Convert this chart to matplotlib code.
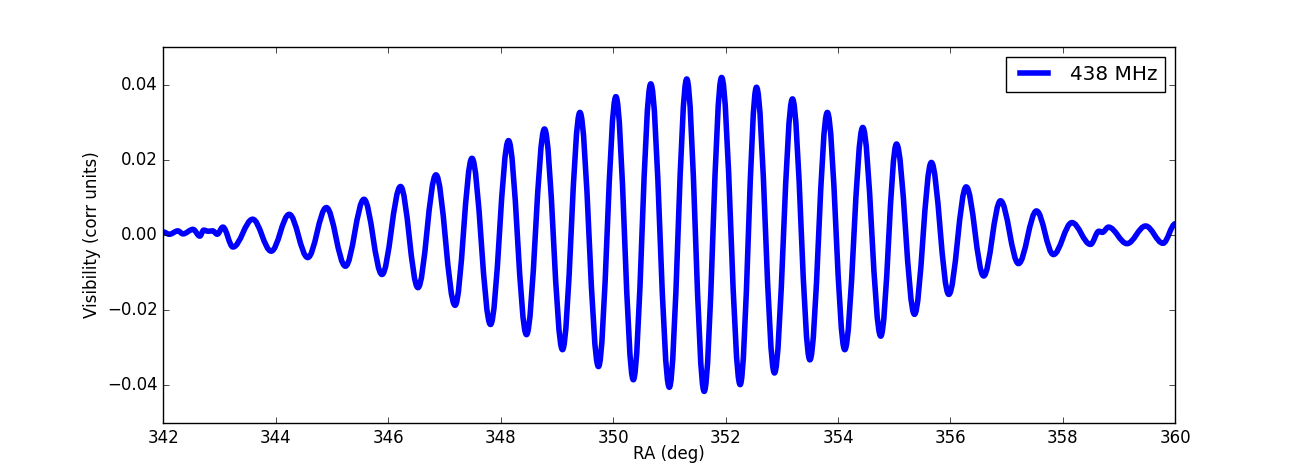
import matplotlib
matplotlib.use("Agg")
import matplotlib.pyplot as plt
from matplotlib.path import Path
from matplotlib.patches import PathPatch
from matplotlib.lines import Line2D

plt.style.use("classic")

# Extrema of the fringe pattern (RA in deg, visibility in corr units)
ra_ext = [342.00, 342.11, 342.26, 342.35, 342.53, 342.65, 342.72, 342.80, 342.88, 342.96,
          343.06, 343.24, 343.59, 343.92, 344.24, 344.57, 344.90, 345.24, 345.57,
          345.89, 346.22, 346.53, 346.85, 347.19, 347.49, 347.82, 348.14, 348.46,
          348.78, 349.10, 349.41, 349.74, 350.05, 350.36, 350.67, 351.00, 351.31,
          351.62, 351.93, 352.26, 352.55, 352.87, 353.19, 353.50, 353.81, 354.12,
          354.44, 354.76, 355.04, 355.36, 355.66, 355.97, 356.28, 356.59, 356.89,
          357.21, 357.53, 357.83, 358.16, 358.49, 358.64, 358.70, 358.81, 359.14,
          359.47, 359.78, 360.00]
vis_ext = [0.0008, 0.0002, 0.0011, 0.0003, 0.0015, -0.0003, 0.0013, 0.0010, 0.0011, 0.0002,
           0.0021, -0.0032, 0.0042, -0.0043, 0.0055, -0.0060, 0.0073, -0.0083, 0.0095,
           -0.0105, 0.0129, -0.0140, 0.0160, -0.0187, 0.0204, -0.0238, 0.0251, -0.0265,
           0.0282, -0.0305, 0.0326, -0.0350, 0.0368, -0.0385, 0.0402, -0.0405, 0.0415,
           -0.0416, 0.0419, -0.0398, 0.0393, -0.0367, 0.0362, -0.0332, 0.0326, -0.0305,
           0.0286, -0.0269, 0.0242, -0.0211, 0.0193, -0.0158, 0.0128, -0.0109, 0.0091,
           -0.0076, 0.0064, -0.0052, 0.0033, -0.0025, 0.0010, 0.0007, 0.0021, -0.0023,
           0.0024, -0.0022, 0.0030]
series_label = "438 MHz"
xticks = [342, 344, 346, 348, 350, 352, 354, 356, 358, 360]
yticks = [-0.04, -0.02, 0.00, 0.02, 0.04]

fig = plt.figure(figsize=(13.06, 4.70), dpi=100)
ax = fig.add_subplot(111)

# smooth curve through the extrema (horizontal tangent at each extremum)
verts = [(ra_ext[0], vis_ext[0])]
codes = [Path.MOVETO]
k = 0.36
for i in range(len(ra_ext) - 1):
    xa, ya = ra_ext[i], vis_ext[i]
    xb, yb = ra_ext[i + 1], vis_ext[i + 1]
    d = xb - xa
    verts += [(xa + k * d, ya), (xb - k * d, yb), (xb, yb)]
    codes += [Path.CURVE4] * 3
patch = PathPatch(Path(verts, codes), facecolor="none", edgecolor="b", lw=4,
                  capstyle="butt", joinstyle="round")
ax.add_patch(patch)

ax.set_xlim(342, 360)
ax.set_ylim(-0.05, 0.05)
ax.set_xticks(xticks)
ax.set_yticks(yticks)
ax.set_yticklabels([("%.2f" % v).replace("-", "\u2212") for v in yticks])
ax.set_xlabel("RA (deg)", labelpad=-1)
ax.set_ylabel("Visibility (corr units)", labelpad=4)

handle = Line2D([], [], color="b", lw=4)
ax.legend([handle], [series_label], loc="upper right")

fig.savefig("out.png", dpi=100)
